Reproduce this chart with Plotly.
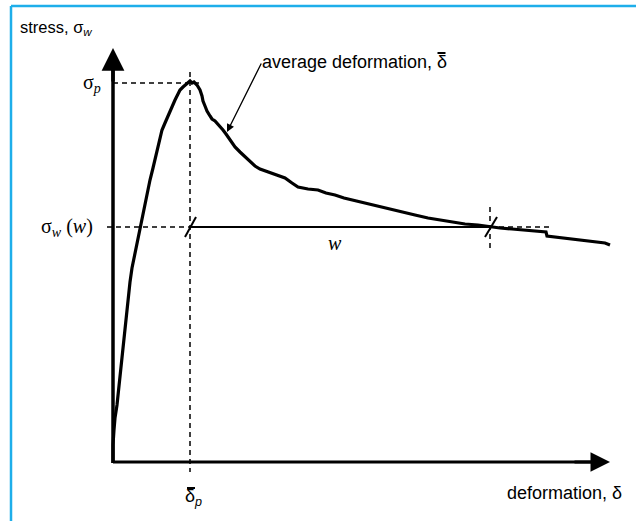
import plotly.graph_objects as go

# Curve (deformation, stress) in arbitrary units
deformation = [0, 0, 1, 2, 4, 6, 9, 12, 14, 17, 19, 21, 24, 27, 30, 33, 37, 40, 43, 47, 49,
               52, 55, 57, 60, 62, 65, 67, 70, 72, 75, 77, 79, 81, 84, 87, 89, 90, 92, 94,
               97, 99, 102, 105, 108, 110, 113, 115, 118, 122, 127, 132, 137, 142, 147,
               155, 163, 172, 179, 185, 195, 205, 213, 222, 231, 239, 249, 259, 269, 279,
               290, 302, 315, 327, 339, 352, 365, 377, 387, 399, 412, 427, 433, 434, 442,
               452, 462, 472, 482, 492, 497]
stress = [0, 18, 33, 45, 58, 78, 108, 133, 153, 181, 195, 205, 220, 236, 250, 263, 283, 295,
          308, 325, 333, 340, 347, 353, 359, 363, 369, 373, 376, 378, 380, 382, 380, 381,
          378, 373, 367, 362, 357, 352, 347, 344, 342, 339, 336, 333, 329, 326, 322, 316,
          311, 306, 301, 297, 294, 291, 288, 285, 280, 276, 274, 273, 270, 268, 265, 263,
          261, 258, 256, 253, 251, 248, 245, 243, 241, 239, 238, 236, 235, 234, 233, 232,
          231, 227, 226, 225, 224, 223, 221, 220, 218]

delta_p = 77      # deformation at peak
sigma_p = 380     # peak stress
sigma_w = 236     # stress level sigma_w(w)
delta_end = 377   # end of window w

X0, Y0 = -113, -58
X1, Y1 = 523, 463

sans = "Liberation Sans, Arial, sans-serif"
serif = "Liberation Serif, Times New Roman, serif"

fig = go.Figure()
fig.add_trace(go.Scatter(x=deformation, y=stress, mode="lines",
                         line=dict(color="black", width=3.2), hoverinfo="skip"))

dash = dict(color="black", width=1.5, dash="5px,4px")
frame = dict(color="#1EAEEA", width=2.5)
shapes = [
    # light blue frame
    dict(type="line", x0=-102, y0=457, x1=X1, y1=457, line=frame),
    dict(type="line", x0=-102, y0=457, x1=-102, y1=Y0, line=frame),
    # guides
    dict(type="line", x0=0, y0=sigma_p, x1=delta_p + 13, y1=sigma_p, line=dash),
    dict(type="line", x0=delta_p, y0=391, x1=delta_p, y1=-9, line=dash),
    dict(type="line", x0=-6, y0=sigma_w, x1=delta_p, y1=sigma_w, line=dash),
    dict(type="line", x0=delta_p, y0=sigma_w, x1=delta_end, y1=sigma_w,
         line=dict(color="black", width=2)),
    dict(type="line", x0=delta_end, y0=sigma_w, x1=440, y1=sigma_w, line=dash),
    dict(type="line", x0=delta_end, y0=256, x1=delta_end, y1=214, line=dash),
    # slash ticks
    dict(type="line", x0=delta_p - 5, y0=sigma_w - 10, x1=delta_p + 6, y1=sigma_w + 10,
         line=dict(color="black", width=2)),
    dict(type="line", x0=delta_end - 5, y0=sigma_w - 10, x1=delta_end + 7, y1=sigma_w + 10,
         line=dict(color="black", width=2)),
    # axes lines
    dict(type="line", x0=0, y0=0, x1=0, y1=400, line=dict(color="black", width=3.5)),
    dict(type="line", x0=0, y0=1, x1=480, y1=1, line=dict(color="black", width=3)),
    # bars over delta
    dict(type="line", x0=324.5, y0=410, x1=332.5, y1=410, line=dict(color="black", width=2)),
    dict(type="line", x0=74, y0=-25, x1=82, y1=-25, line=dict(color="black", width=2)),
]

annotations = [
    # axis arrowheads
    dict(x=0, y=415, ax=0, ay=380, xref="x", yref="y", axref="x", ayref="y", text="",
         showarrow=True, arrowhead=2, arrowsize=1.3, arrowwidth=3.5, arrowcolor="black"),
    dict(x=497, y=1, ax=460, ay=1, xref="x", yref="y", axref="x", ayref="y", text="",
         showarrow=True, arrowhead=2, arrowsize=1.3, arrowwidth=3, arrowcolor="black"),
    # pointer to curve
    dict(x=114, y=331, ax=149, ay=401, xref="x", yref="y", axref="x", ayref="y", text="",
         showarrow=True, arrowhead=2, arrowsize=1.2, arrowwidth=1.3, arrowcolor="black"),
    dict(x=147, y=401, xref="x", yref="y", text="average deformation, δ",
         showarrow=False, xanchor="left", font=dict(family=sans, size=18, color="black")),
    dict(x=-95, y=435, xref="x", yref="y", text="stress, σ<sub><i>w</i></sub>",
         showarrow=False, xanchor="left", font=dict(family=sans, size=16.5, color="black")),
    dict(x=-10, y=sigma_p, xref="x", yref="y", text="σ<sub><i>p</i></sub>",
         showarrow=False, xanchor="right", font=dict(family=serif, size=20, color="black")),
    dict(x=-18, y=sigma_w, xref="x", yref="y", text="σ<sub><i>w</i></sub> (<i>w</i>)",
         showarrow=False, xanchor="right", font=dict(family=serif, size=20, color="black")),
    dict(x=222, y=sigma_w - 16, xref="x", yref="y", text="<i>w</i>",
         showarrow=False, font=dict(family=serif, size=20, color="black")),
    dict(x=delta_p + 3, y=-34, xref="x", yref="y", text="δ<sub><i>p</i></sub>",
         showarrow=False, font=dict(family=sans, size=18, color="black")),
    dict(x=511, y=-30, xref="x", yref="y", text="deformation, δ",
         showarrow=False, xanchor="right", font=dict(family=sans, size=18, color="black")),
]

fig.update_layout(
    width=636, height=521, autosize=False,
    margin=dict(l=0, r=0, t=0, b=0),
    paper_bgcolor="white", plot_bgcolor="white",
    showlegend=False,
    xaxis=dict(range=[X0, X1], visible=False, fixedrange=True),
    yaxis=dict(range=[Y0, Y1], visible=False, fixedrange=True),
    shapes=shapes, annotations=annotations,
)

fig.write_html("out.html", config={"displayModeBar": False},
               post_script="document.body.style.margin='0';document.body.style.overflow='hidden';")
